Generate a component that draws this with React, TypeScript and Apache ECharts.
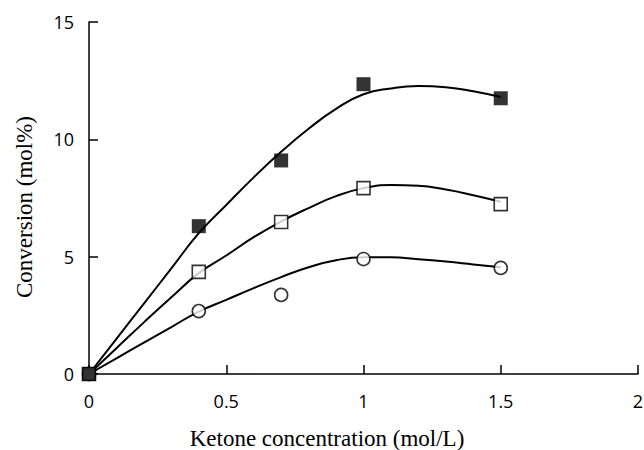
import React, { useEffect, useRef } from "react";
import * as echarts from "echarts";

// Measured data points (x = ketone concentration, mol/L)
const xPoints = [0, 0.4, 0.7, 1.0, 1.5];
const filledSquares = [0, 6.3, 9.1, 12.35, 11.75];
const openSquares = [0, 4.35, 6.48, 7.92, 7.24];
const openCircles = [0, 2.68, 3.37, 4.9, 4.52];

// Fitted curves
const curveX = [0, 0.1, 0.2, 0.3, 0.4, 0.5, 0.6, 0.7, 0.8, 0.9, 1.0, 1.1, 1.2, 1.3, 1.4, 1.5];
const curveFilled = [0, 1.5, 3.0, 4.5, 6.0, 7.2, 8.38, 9.47, 10.45, 11.3, 11.92, 12.17, 12.27, 12.22, 12.05, 11.8];
const curveOpenSq = [0, 1.1, 2.2, 3.27, 4.3, 5.05, 5.83, 6.5, 7.07, 7.58, 7.92, 8.05, 8.02, 7.86, 7.62, 7.34];
const curveCircle = [0, 0.67, 1.34, 2.0, 2.66, 3.16, 3.66, 4.13, 4.55, 4.85, 4.97, 4.97, 4.89, 4.79, 4.67, 4.55];

const xTicks = ["0", "0.5", "1", "1.5", "2"];

const pair = (xs: number[], ys: number[]) => xs.map((x, i) => [x, ys[i]]);

export default function App() {
  const ref = useRef<HTMLDivElement>(null);
  useEffect(() => {
    if (!ref.current) return;
    const chart = echarts.init(ref.current, undefined, { renderer: "svg" });
    const lineStyle = { color: "#000", width: 2 };
    const curve = (data: number[][]) => ({
      type: "line",
      data,
      smooth: 0.5,
      showSymbol: false,
      symbol: "none",
      lineStyle,
      z: 2,
      silent: true,
    });
    chart.setOption({
      animation: false,
      backgroundColor: "#fff",
      grid: { left: 89, right: 6, top: 22, bottom: 76, containLabel: false, outerBoundsMode: "none" },
      xAxis: {
        type: "value",
        min: 0,
        max: 2,
        interval: 0.5,
        splitLine: { show: false },
        axisLine: { lineStyle: { color: "#000", width: 1.5 } },
        axisTick: { inside: true, length: 9, lineStyle: { color: "#000", width: 1.5 } },
        axisLabel: {
          margin: 18,
          color: "#000",
          fontSize: 18,
          fontFamily: "Open Sans",
          formatter: (v: number) => xTicks[Math.round(v / 0.5)] ?? String(v),
        },
      },
      yAxis: {
        type: "value",
        min: 0,
        max: 15,
        interval: 5,
        splitLine: { show: false },
        axisLine: { show: true, lineStyle: { color: "#000", width: 1.5 } },
        axisTick: { show: true, inside: true, length: 9, lineStyle: { color: "#000", width: 1.5 } },
        axisLabel: { margin: 15, color: "#000", fontSize: 18, fontFamily: "Open Sans" },
      },
      graphic: [
        {
          type: "text",
          x: 327,
          y: 438,
          style: {
            text: "Ketone concentration (mol/L)",
            fill: "#000",
            fontSize: 23,
            fontFamily: "Liberation Serif",
            textAlign: "center",
            textVerticalAlign: "middle",
          },
        },
        {
          type: "text",
          x: 24,
          y: 207,
          rotation: Math.PI / 2,
          style: {
            text: "Conversion (mol%)",
            fill: "#000",
            fontSize: 23,
            fontFamily: "Liberation Serif",
            textAlign: "center",
            textVerticalAlign: "middle",
          },
        },
      ],
      series: [
        curve(pair(curveX, curveFilled)),
        curve(pair(curveX, curveOpenSq)),
        curve(pair(curveX, curveCircle)),
        {
          type: "scatter",
          data: pair(xPoints, openCircles),
          symbol: "circle",
          symbolSize: 13,
          itemStyle: { color: "#fff", borderColor: "#000", borderWidth: 1.6 },
          z: 3,
          clip: false,
        },
        {
          type: "scatter",
          data: pair(xPoints, openSquares),
          symbol: "rect",
          symbolSize: 13,
          itemStyle: { color: "#fff", borderColor: "#000", borderWidth: 1.6 },
          z: 3,
          clip: false,
        },
        {
          type: "scatter",
          data: pair(xPoints, filledSquares),
          symbol: "rect",
          symbolSize: 14,
          itemStyle: { color: "#000" },
          z: 4,
          clip: false,
        },
      ],
    });
    return () => chart.dispose();
  }, []);
  return <div ref={ref} style={{ width: 644, height: 450, position: "absolute", left: 0, top: 0 }} />;
}
